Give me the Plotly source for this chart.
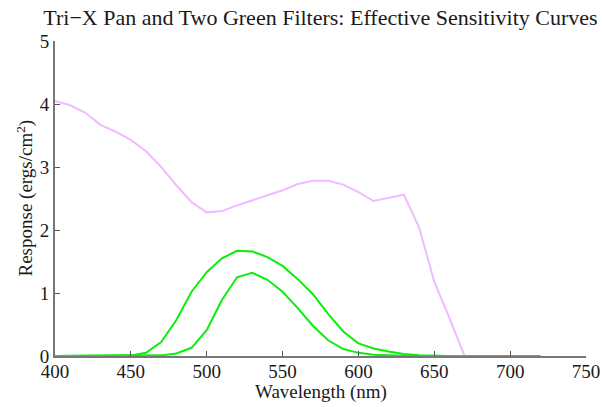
import plotly.graph_objects as go

wavelength = list(range(400, 730, 10))
trix_pan = [4.05, 3.98, 3.86, 3.67, 3.56, 3.43, 3.25, 3.00, 2.71, 2.44, 2.28, 2.30, 2.39,
            2.47, 2.54, 2.63, 2.73, 2.78, 2.78, 2.72, 2.60, 2.46, 2.51, 2.56, 2.04, 1.18,
            0.60, 0.0, 0.0, 0.0, 0.0, 0.0, 0.0]
green_wide = [0.0, 0.0, 0.0, 0.0, 0.0, 0.01, 0.05, 0.22, 0.57, 1.02, 1.33, 1.55, 1.67,
              1.66, 1.57, 1.43, 1.22, 0.98, 0.67, 0.39, 0.20, 0.12, 0.07, 0.03, 0.01, 0.0,
              0.0, 0.0, 0.0, 0.0, 0.0, 0.0, 0.0]
green_narrow = [0.0, 0.0, 0.0, 0.0, 0.0, 0.0, 0.0, 0.01, 0.04, 0.13, 0.41, 0.89, 1.25,
                1.32, 1.21, 1.02, 0.76, 0.48, 0.25, 0.11, 0.05, 0.02, 0.01, 0.0, 0.0, 0.0,
                0.0, 0.0, 0.0, 0.0, 0.0, 0.0, 0.0]
x_ticks = [400, 450, 500, 550, 600, 650, 700, 750]
y_ticks = [0, 1, 2, 3, 4, 5]

FONT = "Liberation Serif"
TXT = "#1a1a1a"
W, H = 602, 407
ML, MR, MT, MB = 55, 16, 41, 51

fig = go.Figure()
fig.add_trace(go.Scatter(x=wavelength, y=trix_pan, mode="lines",
                         line=dict(color="#eebcff", width=2), showlegend=False))
fig.add_trace(go.Scatter(x=wavelength, y=green_wide, mode="lines",
                         line=dict(color="#0aef0a", width=2), showlegend=False))
fig.add_trace(go.Scatter(x=wavelength, y=green_narrow, mode="lines",
                         line=dict(color="#0aef0a", width=2), showlegend=False))

fig.update_layout(
    width=W, height=H,
    margin=dict(l=ML, r=MR, t=MT, b=MB, autoexpand=False),
    paper_bgcolor="white", plot_bgcolor="white",
    font=dict(family=FONT, size=19, color=TXT),
    title=dict(text="Tri\u2212X Pan and Two Green Filters: Effective Sensitivity Curves",
               x=0.5, xref="paper", xanchor="center", y=1 - 17 / H, yanchor="middle",
               font=dict(family=FONT, size=22, color=TXT)),
    xaxis=dict(range=[400, 750], tickvals=x_ticks, ticktext=[str(v) for v in x_ticks],
               showgrid=False, zeroline=False, showline=True, linecolor="#777777",
               linewidth=2, ticks="inside", ticklen=5, tickcolor="#555555", tickwidth=1,
               automargin=False, tickfont=dict(size=19), ticklabelstandoff=-3),
    yaxis=dict(range=[0, 5], tickvals=y_ticks, ticktext=[str(v) for v in y_ticks],
               showgrid=False, zeroline=False, showline=True, linecolor="#777777",
               linewidth=2, ticks="inside", ticklen=5, tickcolor="#555555", tickwidth=1,
               automargin=False, tickfont=dict(size=19), ticklabelstandoff=0),
    annotations=[
        dict(text="Wavelength (nm)", xref="paper", yref="paper", x=0.5, y=0,
             xanchor="center", yanchor="middle", yshift=-36, showarrow=False,
             font=dict(family=FONT, size=19, color=TXT)),
        dict(text="Response (ergs/cm<sup>2</sup>)", xref="paper", yref="paper", x=0, y=0.5,
             xanchor="center", yanchor="middle", xshift=-30, textangle=-90, showarrow=False,
             font=dict(family=FONT, size=19, color=TXT)),
    ],
)

fig.write_html("out.html", config={"displayModeBar": False},
               post_script="document.body.style.margin='0';")
